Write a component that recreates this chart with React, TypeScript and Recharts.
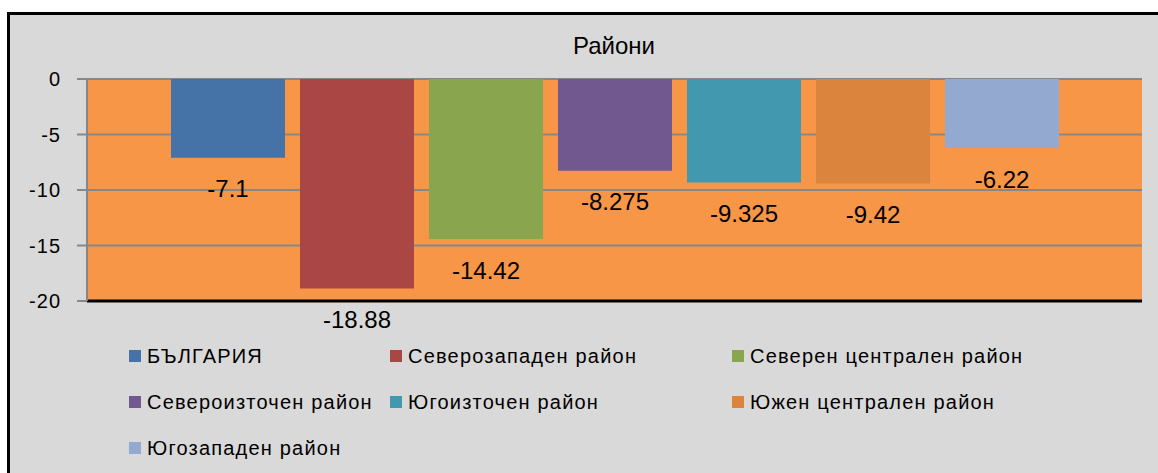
import { Bar, BarChart, CartesianGrid, LabelList, XAxis, YAxis } from "recharts"

const categories = ["Райони"]
const seriesNames = [
  "БЪЛГАРИЯ",
  "Северозападен район",
  "Северен централен район",
  "Североизточен район",
  "Югоизточен район",
  "Южен централен район",
  "Югозападен район",
]
const seriesValues = [-7.1, -18.88, -14.42, -8.275, -9.325, -9.42, -6.22]
const seriesColors = ["#4572a7", "#aa4643", "#89a54e", "#71588f", "#4198af", "#db843d", "#93a9cf"]
const yTicks = [0, -5, -10, -15, -20]

const FONT = "'Liberation Sans', Arial, sans-serif"

const data = categories.map((name) => {
  const row: Record<string, string | number> = { name }
  seriesNames.forEach((s, i) => {
    row[s] = seriesValues[i]
  })
  return row
})

function BelowLabel(props: any) {
  const { x, y, width, height, value } = props
  const bottom = Math.max(y, y + height)
  return (
    <text
      x={x + width / 2}
      y={bottom + 31}
      textAnchor="middle"
      dominantBaseline="central"
      fontSize={24}
      fontFamily={FONT}
      fill="#000"
    >
      {value}
    </text>
  )
}

function LegendGrid() {
  return (
    <div
      style={{
        position: "absolute",
        left: 129,
        top: 333,
        display: "grid",
        gridTemplateColumns: "261px 342px 300px",
        gridAutoRows: "46px",
        fontFamily: FONT,
        fontSize: 20,
        letterSpacing: 1.2,
        color: "#000",
      }}
    >
      {seriesNames.map((s, i) => (
        <div key={s} style={{ display: "flex", alignItems: "center", whiteSpace: "nowrap" }}>
          <span style={{ width: 12, height: 12, background: seriesColors[i], marginRight: 6, flex: "none" }} />
          {s}
        </div>
      ))}
    </div>
  )
}

export default function App() {
  return (
    <div style={{ position: "absolute", left: 0, top: 0, width: 1158, height: 473, overflow: "hidden", background: "#fff" }}>
      <div
        style={{
          position: "absolute",
          left: 7,
          top: 12,
          width: 1160,
          height: 470,
          borderTop: "3px solid #000",
          borderLeft: "3px solid #000",
          background: "#d9d9d9",
        }}
      />
      <div
        style={{
          position: "absolute",
          left: 514,
          top: 32,
          width: 200,
          textAlign: "center",
          fontFamily: FONT,
          fontSize: 24,
          lineHeight: "28px",
          color: "#000",
        }}
      >
        Райони
      </div>
      <div style={{ position: "absolute", left: 0, top: 0 }}>
        <BarChart
          width={1158}
          height={473}
          data={data}
          margin={{ top: 79, right: 16, bottom: 171, left: 0 }}
          barSize={114}
          barGap={15}
        >
          <CartesianGrid vertical={false} fill="#f79646" stroke="#878787" strokeWidth={2} />
          <XAxis dataKey="name" tick={false} height={1} stroke="#000" strokeWidth={3} tickLine={false} />
          <XAxis xAxisId="top" dataKey="name" orientation="top" tick={false} height={0} stroke="#000" strokeWidth={2} tickLine={false} />
          <YAxis
            domain={[-20, 0]}
            ticks={yTicks}
            interval={0}
            width={87}
            stroke="#878787"
            strokeWidth={2}
            tickSize={10}
            tickMargin={16}
            tick={{ fill: "#000", fontSize: 20, fontFamily: FONT, letterSpacing: 1 }}
          />
          <YAxis yAxisId="right" orientation="right" width={0} tick={false} tickLine={false} stroke="#000" strokeWidth={3} />
          {seriesNames.map((s, i) => (
            <Bar key={s} dataKey={s} name={s} fill={seriesColors[i]} isAnimationActive={false}>
              <LabelList dataKey={s} content={BelowLabel} />
            </Bar>
          ))}
        </BarChart>
      </div>
      <LegendGrid />
    </div>
  )
}
